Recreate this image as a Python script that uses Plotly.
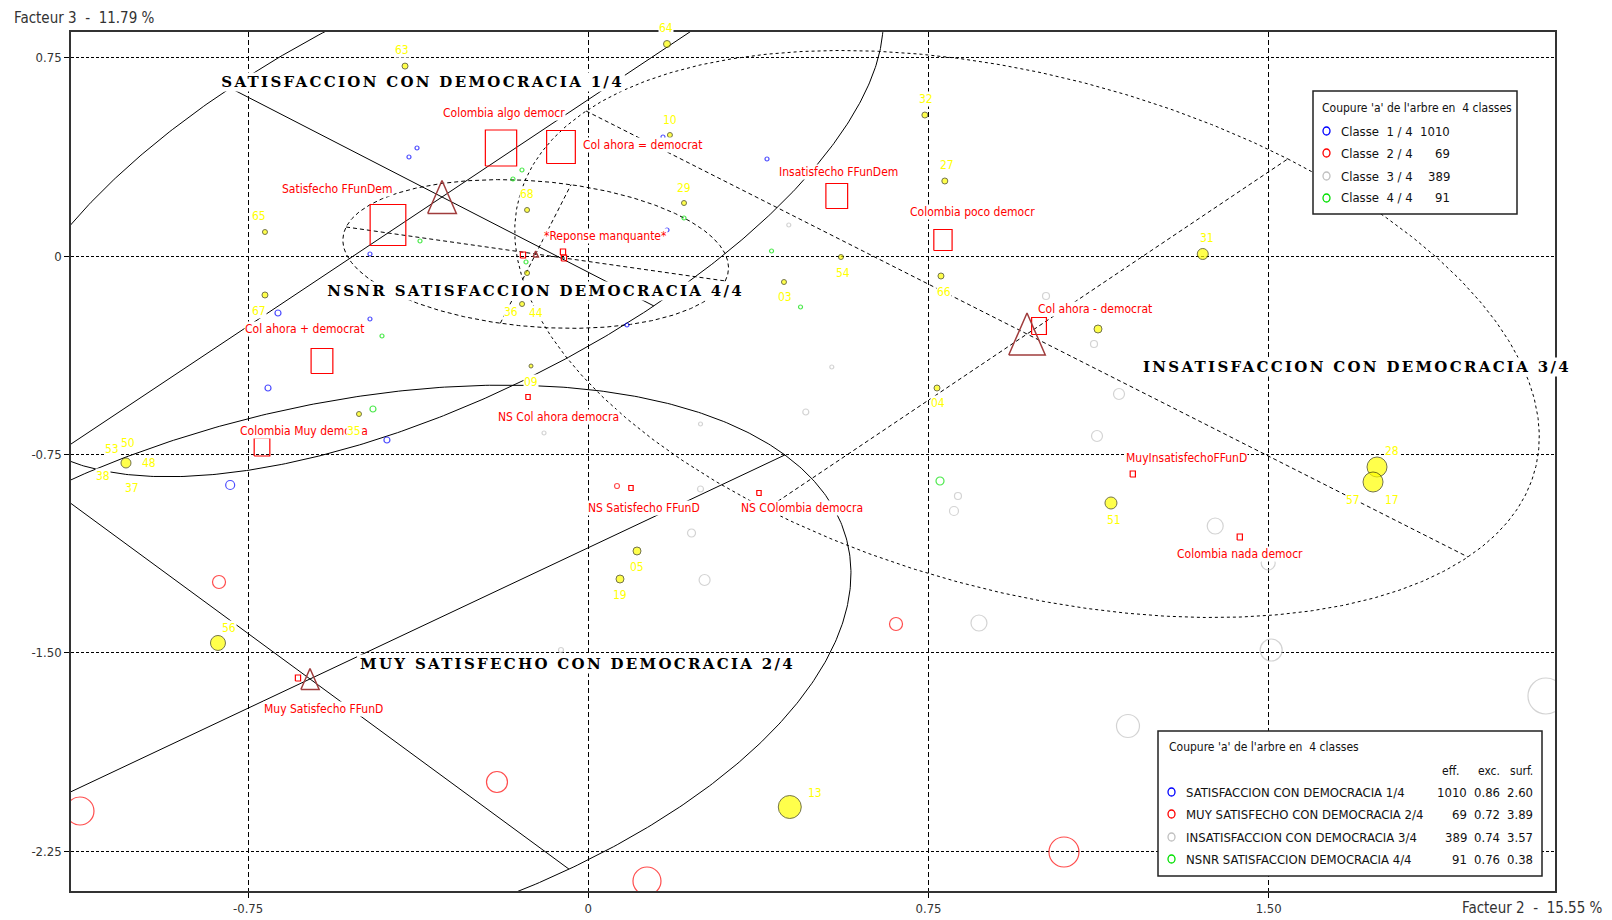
import json
import numpy as np
import plotly.graph_objects as go

# ---------------- figure geometry ----------------
W, H = 1612, 920
ML, MR, MT, MB = 71, 57, 32, 29
X_RANGE = [-1.1404, 2.1312]
Y_RANGE = [-2.4008, 0.8469]
PW, PH = W - ML - MR, H - MT - MB
SX = PW / (X_RANGE[1] - X_RANGE[0])   # px per unit (x)
SY = PH / (Y_RANGE[1] - Y_RANGE[0])   # px per unit (y)

NARROW = "Liberation Sans Narrow, DejaVu Sans Condensed, Arial Narrow, sans-serif"
SERIF = "DejaVu Serif, Liberation Serif, serif"

# ---------------- axes ----------------
x_ticks = [-0.75, 0, 0.75, 1.5]
x_ticktext = ["-0.75", "0", "0.75", "1.50"]
y_ticks = [0.75, 0, -0.75, -1.5, -2.25]
y_ticktext = ["0.75", "0", "-0.75", "-1.50", "-2.25"]
x_title = "Facteur 2  -  15.55 %"
y_title = "Facteur 3  -  11.79 %"

# ---------------- classes ----------------
class_names = ["SATISFACCION CON DEMOCRACIA 1/4", "MUY SATISFECHO CON DEMOCRACIA 2/4",
               "INSATISFACCION CON DEMOCRACIA 3/4", "NSNR SATISFACCION DEMOCRACIA 4/4"]
class_short = ["Classe  1 / 4", "Classe  2 / 4", "Classe  3 / 4", "Classe  4 / 4"]
class_eff = [1010, 69, 389, 91]
class_exc = ["0.86", "0.72", "0.74", "0.76"]
class_surf = ["2.60", "3.89", "3.57", "0.38"]
# ellipse centre and semi-axis vectors (factor units)
class_cx = [-0.3225, -0.6135, 0.9672, -0.116]
class_cy = [0.2231, -1.5992, -0.2949, 0.0076]
class_ax = [0.853, 1.047, 0.575, 0.418]
class_ay = [0.974, 0.847, 0.662, -0.102]
class_bx = [0.467, 0.571, 0.972, 0.078]
class_by = [-0.412, -0.719, -0.843, 0.262]
class_weight = [33, 21, 42, 6]
# class name positions
title_x = [-0.366, -0.0227, 1.6947, -0.1173]
title_y = [0.659, -1.5414, -0.4178, -0.1323]

# ---------------- individuals by class ----------------
blue_x = [-0.3776, -0.3953, -0.4813, -0.6841, -0.4813, -0.7061, -0.4439, -0.7895, 0.1647, 0.3940, 0.1735, 0.0853]
blue_y = [0.4083, 0.3743, 0.0076, -0.2155, -0.2382, -0.4991, -0.6957, -0.8658, 0.4499, 0.3667, 0.0983, -0.2609]
blue_w = [4, 4, 4, 6, 4, 6, 6, 9, 4, 4, 4, 4]

red_x = [-0.8141, -1.1206, -0.2013, 0.1294, 0.6784, 1.0487, 0.0633]
red_y = [-1.2325, -2.0983, -1.9887, -2.3629, -1.3913, -2.2533, -0.8696]
red_w = [13, 28, 21, 28, 13, 30, 5]

gray_x = [0.442, 0.5368, 0.4795, 0.2474, -0.0976, 0.2474, 0.2276, 0.2564, -0.0602, 1.0091, 1.1149,
          1.17, 1.1215, 0.815, 0.8062, 1.3821, 1.4989, 0.8613, 1.5055, 1.1898, 2.1113]
gray_y = [0.1172, -0.4197, -0.5898, -0.6352, -0.6692, -0.8809, -1.0473, -1.225, -1.4896, -0.1512, -0.3327,
          -0.5217, -0.6805, -0.9074, -0.9641, -1.0208, -1.1607, -1.3875, -1.4896, -1.7769, -1.6635]
gray_w = [4, 4, 6, 4, 4, 6, 8, 11, 5, 7, 7, 11, 11, 7, 9, 16, 14, 16, 22, 23, 36]

green_x = [-0.1462, -0.166, -0.371, -0.1373, 0.211, 0.404, 0.4679, -0.4548, -0.4747, 0.7754]
green_y = [0.3251, 0.2911, 0.0567, -0.0227, 0.1437, 0.0189, -0.1928, -0.3025, -0.5784, -0.8507]
green_w = [4, 4, 4, 4, 4, 4, 4, 4, 6, 8]

# ---------------- supplementary individuals (yellow) ----------------
yel_x = [-0.404, 0.1735, 0.180, 0.742, 0.786, 0.211, -0.135, -0.7128, 1.3547, 0.557, 0.7775, 0.4314,
         -0.7128, -0.135, -0.146, 1.1237, -0.1263, 0.7688, -0.5055, -1.0192, 1.1523, 1.7388, 1.73,
         0.1074, 0.0699, -0.8164, 0.4442]
yel_y = [0.718, 0.8015, 0.4575, 0.533, 0.2836, 0.2004, 0.174, 0.0907, 0.0076, -0.0038, -0.0756, -0.0983,
         -0.1474, -0.0643, -0.1815, -0.276, -0.4159, -0.4991, -0.5974, -0.7826, -0.9338, -0.7977, -0.8544,
         -1.1153, -1.2212, -1.4631, -2.0832]
yel_w = [6, 7, 5, 6, 6, 5, 5, 5, 11, 5, 6, 5, 6, 5, 5, 8, 4, 6, 5, 10, 12, 20, 20, 8, 8, 15, 23]

yel_lab = ["63", "64", "10", "32", "27", "29", "68", "65", "31", "54", "66", "03", "67", "36", "44", "09",
           "04", "35", "53", "50", "48", "38", "37", "51", "28", "57", "17", "05", "19", "56", "13"]
yel_lab_x = [-0.4108, 0.1713, 0.1803, 0.7445, 0.7908, 0.211, -0.135, -0.726, 1.3644, 0.5615, 0.7836,
             0.4337, -0.726, -0.1704, -0.1153, -0.1263, 0.7709, -0.5165, -1.05, -1.0147, -0.9684, -1.0703,
             -1.0063, 1.159, 1.7718, 1.6858, 1.7718, 0.1074, 0.0699, -0.793, 0.5]
yel_lab_y = [0.7788, 0.862, 0.5142, 0.5936, 0.344, 0.2571, 0.2344, 0.1512, 0.068, -0.0643, -0.1361,
             -0.155, -0.2079, -0.2117, -0.2155, -0.4764, -0.5558, -0.6616, -0.7297, -0.707, -0.7826,
             -0.8318, -0.8771, -0.9981, -0.7372, -0.9225, -0.9225, -1.1758, -1.2817, -1.4064, -2.0302]

# ---------------- active modalities (red squares) ----------------
mod_text = ["Colombia algo democr", "Col ahora = democrat", "Satisfecho FFunDem", "*Reponse manquante*",
            "", "", "Insatisfecho FFunDem", "Colombia poco democr", "Col ahora + democrat",
            "Col ahora - democrat", "Colombia Muy democra", "NS Col ahora democra", "NS Satisfecho FFunD",
            "NS COlombia democra", "MuyInsatisfechoFFunD", "Colombia nada democr", "Muy Satisfecho FFunD"]
mod_x = [-0.1924, -0.0602, -0.4416, -0.144, -0.0558, -0.0536, 0.5478, 0.7819, -0.5871, 0.9937, -0.7193,
         -0.1329, 0.0941, 0.3763, 1.2004, 1.4363, -0.64]
mod_y = [0.4083, 0.4121, 0.1172, 0.0038, 0.0151, -0.0076, 0.2268, 0.0605, -0.397, -0.2647, -0.7221,
         -0.5331, -0.8771, -0.896, -0.8242, -1.0624, -1.5955]
mod_w = [36, 33, 41, 6, 6, 6, 25, 21, 25, 17, 18, 5, 5, 5, 6, 6, 6]
mod_lab_x = [-0.186, 0.1206, -0.5518, 0.039, None, None, 0.5527, 0.8481, -0.6246, 1.1167, -0.627,
             -0.0646, 0.1228, 0.4711, 1.3195, 1.4363, -0.5827]
mod_lab_y = [0.5406, 0.4197, 0.2533, 0.0756, None, None, 0.3176, 0.1664, -0.276, -0.2004, -0.6616,
             -0.6087, -0.9527, -0.9527, -0.7637, -1.1267, -1.7127]

# ---------------- styles ----------------
CLASS_COLORS = ["#0000ff", "#ff0000", "#c0c0c0", "#00e000"]
ELL_DASH = ["solid", "solid", "3px,3px", "4px,3px"]
AXIS_DASH = ["solid", "solid", "4px,3px", "4px,3px"]
TRI_COLOR = "#a03c3c"
ASPECT = 0.87  # drawn width / height of squares and triangles
LABEL_SIZE = 12


def to_paper(x, y):
    return ((x - X_RANGE[0]) / (X_RANGE[1] - X_RANGE[0]),
            (y - Y_RANGE[0]) / (Y_RANGE[1] - Y_RANGE[0]))


def px_paper(px, py):
    return (px - ML) / PW, (H - MB - py) / PH


fig = go.Figure()

# ellipses and their axes
t = np.linspace(0, 2 * np.pi, 721)
for k in range(4):
    ex = class_cx[k] + np.cos(t) * class_ax[k] + np.sin(t) * class_bx[k]
    ey = class_cy[k] + np.cos(t) * class_ay[k] + np.sin(t) * class_by[k]
    fig.add_trace(go.Scatter(x=ex, y=ey, mode="lines",
                             line=dict(color="black", width=1, dash=ELL_DASH[k]),
                             hoverinfo="skip", showlegend=False))
    axx = [class_cx[k] - class_ax[k], class_cx[k] + class_ax[k], None,
           class_cx[k] - class_bx[k], class_cx[k] + class_bx[k]]
    axy = [class_cy[k] - class_ay[k], class_cy[k] + class_ay[k], None,
           class_cy[k] - class_by[k], class_cy[k] + class_by[k]]
    fig.add_trace(go.Scatter(x=axx, y=axy, mode="lines",
                             line=dict(color="black", width=1, dash=AXIS_DASH[k]),
                             hoverinfo="skip", showlegend=False))

# class individuals
for xs, ys, ws, col in [(gray_x, gray_y, gray_w, CLASS_COLORS[2]),
                        (red_x, red_y, red_w, CLASS_COLORS[1]),
                        (blue_x, blue_y, blue_w, CLASS_COLORS[0]),
                        (green_x, green_y, green_w, CLASS_COLORS[3])]:
    fig.add_trace(go.Scatter(x=xs, y=ys, mode="markers",
                             marker=dict(symbol="circle-open", size=ws, color=col,
                                         line=dict(width=1.2)),
                             hoverinfo="skip", showlegend=False))

# supplementary (yellow)
fig.add_trace(go.Scatter(x=yel_x, y=yel_y, mode="markers",
                         marker=dict(symbol="circle", size=yel_w, color="#ffff00",
                                     line=dict(width=1, color="#3a3a00")),
                         hoverinfo="skip", showlegend=False))

# modality squares (drawn as rectangles)
sqx, sqy = [], []
for x, y, w in zip(mod_x, mod_y, mod_w):
    hx = w * ASPECT / 2 / SX
    hy = w / 2 / SY
    sqx += [x - hx, x + hx, x + hx, x - hx, x - hx, None]
    sqy += [y - hy, y - hy, y + hy, y + hy, y - hy, None]
fig.add_trace(go.Scatter(x=sqx, y=sqy, mode="lines", line=dict(color="#ff0000", width=1.2),
                         hoverinfo="skip", showlegend=False))

# class centres (triangles)
trx, try_ = [], []
for x, y, w in zip(class_cx, class_cy, class_weight):
    hx = w * ASPECT / 2 / SX
    hy = w / 2 / SY
    trx += [x - hx, x, x + hx, x - hx, None]
    try_ += [y - hy, y + hy, y - hy, y - hy, None]
fig.add_trace(go.Scatter(x=trx, y=try_, mode="lines", line=dict(color=TRI_COLOR, width=1.5),
                         hoverinfo="skip", showlegend=False))

ann = []


def text(x, y, s, color, size, family=NARROW, bg="white", xanchor="center", data=True, bold=False):
    if data:
        px, py = to_paper(x, y)
    else:
        px, py = x, y
    ann.append(dict(x=px, y=py, xref="paper", yref="paper", text=s, showarrow=False,
                    xanchor=xanchor, yanchor="middle", bgcolor=bg, borderpad=0,
                    font=dict(color=color, size=size, family=family,
                              weight="bold" if bold else "normal")))


for s, x, y in zip(mod_text, mod_lab_x, mod_lab_y):
    if s:
        text(x, y, s, "#ff0000", LABEL_SIZE)
for s, x, y in zip(yel_lab, yel_lab_x, yel_lab_y):
    text(x, y, s, "#ffff00", LABEL_SIZE)
for s, x, y in zip(class_names, title_x, title_y):
    text(x, y, s, "black", 15, family=SERIF, bold=True)

# axis titles
px, py = px_paper(13, 18)
text(px, py, y_title, "#333333", 15, data=False, xanchor="left", bg=None)
px, py = px_paper(1604, 908)
text(px, py, x_title, "#333333", 15, data=False, xanchor="right", bg=None)

shapes = []
# legend 1 (top right)
x0, y0 = px_paper(1313, 214)
x1, y1 = px_paper(1517, 91)
shapes.append(dict(type="rect", xref="paper", yref="paper", x0=x0, y0=y0, x1=x1, y1=y1,
                   fillcolor="white", line=dict(color="#222222", width=1.5), layer="above"))
px, py = px_paper(1321, 108)
text(px, py, "Coupure 'a' de l'arbre en  4 classes", "#111111", 12, data=False, xanchor="left")
for i in range(4):
    rowy = [131, 153, 176, 198][i]
    cx0, cy0 = px_paper(1323, rowy - 4)
    cx1, cy1 = px_paper(1330, rowy + 4)
    shapes.append(dict(type="circle", xref="paper", yref="paper", x0=cx0, y0=cy0, x1=cx1, y1=cy1,
                       line=dict(color=CLASS_COLORS[i], width=1.3), layer="above"))
    px, py = px_paper(1340, rowy)
    text(px, py, class_short[i], "#111111", 13, data=False, xanchor="left", bg=None)
    px, py = px_paper(1451, rowy)
    text(px, py, str(class_eff[i]), "#111111", 13, data=False, xanchor="right", bg=None)

# legend 2 (bottom right)
x0, y0 = px_paper(1158, 876)
x1, y1 = px_paper(1542, 731)
shapes.append(dict(type="rect", xref="paper", yref="paper", x0=x0, y0=y0, x1=x1, y1=y1,
                   fillcolor="white", line=dict(color="#222222", width=1.5), layer="above"))
px, py = px_paper(1168, 747)
text(px, py, "Coupure 'a' de l'arbre en  4 classes", "#111111", 12, data=False, xanchor="left")
for s, hx in zip(["eff.", "exc.", "surf."], [1441, 1477, 1509]):
    px, py = px_paper(hx, 771)
    text(px, py, s, "#111111", 12, data=False, xanchor="left", bg=None)
for i in range(4):
    rowy = [792, 814, 837, 859][i]
    cx0, cy0 = px_paper(1168, rowy - 4)
    cx1, cy1 = px_paper(1175, rowy + 4)
    shapes.append(dict(type="circle", xref="paper", yref="paper", x0=cx0, y0=cy0, x1=cx1, y1=cy1,
                       line=dict(color=CLASS_COLORS[i], width=1.3), layer="above"))
    px, py = px_paper(1185, rowy)
    text(px, py, class_names[i], "#111111", 13, data=False, xanchor="left", bg=None)
    for val, rx in zip([str(class_eff[i]), class_exc[i], class_surf[i]], [1468, 1501, 1534]):
        px, py = px_paper(rx, rowy)
        text(px, py, val, "#111111", 13, data=False, xanchor="right", bg=None)

fig.update_layout(
    width=W, height=H, margin=dict(l=ML, r=MR, t=MT, b=MB, pad=0, autoexpand=False),
    paper_bgcolor="white", plot_bgcolor="white", showlegend=False,
    annotations=ann, shapes=shapes,
    xaxis=dict(range=X_RANGE, tickvals=x_ticks, ticktext=x_ticktext, showgrid=True,
               gridcolor="black", gridwidth=1, griddash="5px,3px", zeroline=False,
               showline=True, linecolor="#333333", linewidth=1.5, mirror=True,
               ticks="outside", ticklen=5, tickcolor="black", automargin=False,
               tickfont=dict(family=NARROW, size=13, color="#333333")),
    yaxis=dict(range=Y_RANGE, tickvals=y_ticks, ticktext=y_ticktext, showgrid=True,
               gridcolor="black", gridwidth=1, griddash="3px,2px", zeroline=False,
               showline=True, linecolor="#333333", linewidth=1.5, mirror=True,
               ticks="outside", ticklen=5, tickcolor="black", automargin=False,
               tickfont=dict(family=NARROW, size=13, color="#333333")),
)

# widen the letter spacing of the serif class names drawn on the map (as in the original print)
POST = """
document.body.style.margin = '0';
var gd = document.getElementById('{plot_id}');
var names = NAMES;
gd.querySelectorAll('g.annotation').forEach(function (g) {
  var t = g.querySelector('text.annotation-text');
  if (!t || names.indexOf(t.textContent) < 0) return;
  var fam = (t.style.fontFamily || '') + (t.getAttribute('style') || '');
  if (fam.indexOf('Serif') < 0) return;
  t.style.letterSpacing = '2.3px';
  var bb = t.getBBox();
  var r = g.querySelector('rect.bg');
  if (r) {
    r.setAttribute('x', bb.x - 3);
    r.setAttribute('width', bb.width + 4);
  }
});
""".replace("NAMES", json.dumps(class_names))

fig.write_html("out.html", config={"displayModeBar": False}, post_script=POST)
